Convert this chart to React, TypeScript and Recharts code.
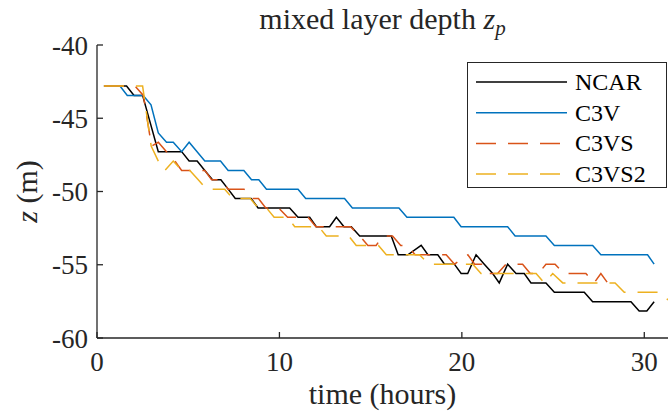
import React from 'react';
import { Label, Line, LineChart, XAxis, YAxis } from 'recharts';

// mixed layer depth z_p (m) against time (hours)
const ncarTime = [0.38, 1.62, 2.03, 2.5, 3.36, 4.64, 5.05, 5.49, 5.91, 6.33, 6.79, 7.19, 7.58, 8.45, 8.83, 10.56, 11.02, 11.66, 12.02, 12.75, 13.12, 13.54, 13.94, 14.4, 16.13, 16.51, 17.04, 17.77, 18.14, 18.68, 19.05, 19.59, 19.96, 20.32, 20.78, 21.23, 21.69, 22.05, 22.51, 22.97, 23.42, 23.79, 24.61, 25.07, 26.71, 27.17, 29.27, 29.72, 30.14, 30.54];
const ncarDepth = [-42.8, -42.8, -43.44, -43.44, -47.28, -47.28, -47.92, -47.92, -48.56, -49.2, -49.2, -49.84, -50.48, -50.48, -51.12, -51.12, -51.76, -51.76, -52.4, -52.4, -51.76, -52.4, -52.4, -53.04, -53.04, -54.32, -54.32, -53.68, -54.32, -54.32, -54.96, -54.96, -55.6, -55.6, -54.32, -54.96, -55.6, -56.24, -54.96, -55.6, -55.6, -56.24, -56.24, -56.88, -56.88, -57.52, -57.52, -58.16, -58.16, -57.52];

const c3vTime = [0.38, 1.26, 1.66, 2.53, 2.96, 3.36, 3.81, 4.18, 4.64, 5.05, 5.91, 6.77, 7.19, 8.05, 8.47, 8.87, 9.29, 11.02, 11.44, 13.57, 14.0, 16.55, 16.99, 19.56, 19.96, 22.51, 22.92, 24.61, 25.07, 27.17, 27.62, 30.18, 30.54];
const c3vDepth = [-42.8, -42.8, -43.44, -43.44, -44.08, -46.0, -46.64, -46.64, -47.28, -46.64, -47.92, -47.92, -48.56, -48.56, -49.2, -49.2, -49.84, -49.84, -50.48, -50.48, -51.12, -51.12, -51.76, -51.76, -52.4, -52.4, -53.04, -53.04, -53.68, -53.68, -54.32, -54.32, -54.96];

const c3vsTime = [0.38, 2.08, 2.54, 2.99, 3.36, 3.81, 4.27, 4.64, 5.45, 5.91, 6.28, 6.79, 7.19, 8.06, 8.5, 8.85, 9.25, 9.95, 10.45, 11.57, 12.0, 13.9, 14.4, 14.85, 15.3, 15.67, 16.2, 16.65, 17.0, 17.44, 19.14, 19.6, 20.33, 20.7, 21.09, 21.51, 21.96, 22.42, 23.33, 23.75, 24.2, 24.61, 25.11, 25.6, 26.8, 27.25, 27.62, 27.99];
const c3vsDepth = [-42.8, -42.8, -43.44, -46.9, -46.64, -47.28, -47.92, -48.56, -48.56, -48.56, -49.2, -49.2, -49.84, -49.84, -50.48, -50.48, -51.12, -51.12, -51.76, -51.76, -52.4, -52.4, -53.04, -53.68, -53.68, -53.04, -53.04, -53.68, -53.68, -54.32, -54.32, -54.96, -54.32, -54.96, -54.96, -55.6, -55.6, -54.96, -54.96, -55.6, -55.6, -54.96, -54.96, -55.6, -55.6, -56.24, -55.6, -56.24];

const c3vs2Time = [0.38, 2.5, 2.97, 3.36, 3.72, 4.18, 4.64, 5.09, 5.55, 6.0, 6.55, 7.0, 7.45, 8.4, 8.83, 9.29, 9.71, 10.43, 10.84, 12.15, 12.57, 13.8, 14.21, 15.43, 15.86, 17.68, 18.2, 20.6, 21.05, 24.07, 24.52, 24.98, 25.53, 28.4, 28.9, 30.9, 31.3];
const c3vs2Depth = [-42.8, -42.8, -46.9, -47.92, -48.56, -47.92, -48.56, -48.56, -49.2, -49.84, -49.84, -49.84, -50.48, -50.48, -51.12, -51.12, -51.76, -51.76, -52.4, -52.4, -53.04, -53.04, -53.68, -53.68, -54.32, -54.32, -54.96, -54.96, -55.6, -55.6, -56.24, -55.6, -56.24, -56.24, -56.88, -56.88, -57.4];

const xTicks = [0, 10, 20, 30];
const yTicks = [-60, -55, -50, -45, -40];

const toRows = (t: number[], z: number[]) => t.map((v, i) => ({ t: v, z: z[i] }));

const series = [
    { name: 'NCAR', data: toRows(ncarTime, ncarDepth), color: '#000000', dash: undefined },
    { name: 'C3V', data: toRows(c3vTime, c3vDepth), color: '#0072BD', dash: undefined },
    { name: 'C3VS', data: toRows(c3vsTime, c3vsDepth), color: '#D95319', dash: '20 12' },
    { name: 'C3VS2', data: toRows(c3vs2Time, c3vs2Depth), color: '#EDB120', dash: '20 12' },
];

const FONT = '"Liberation Serif", "Times New Roman", serif';
const AXIS = '#262626';

const LegendBox = () => (
    <div
        style={{
            position: 'absolute',
            left: 467,
            top: 62,
            width: 200,
            height: 126,
            border: `1px solid ${AXIS}`,
            background: '#fff',
            boxSizing: 'border-box',
            zIndex: 2,
        }}
    >
        <svg width={198} height={124} style={{ display: 'block' }}>
            {series.map((s, i) => {
                const y = 19 + i * 30.7;
                return (
                    <g key={s.name}>
                        <line x1={8} x2={99} y1={y} y2={y} stroke={s.color} strokeWidth={1.5} strokeDasharray={s.dash} />
                        <text x={107} y={y + 8} fontSize={24} fontFamily={FONT} fill="#000">
                            {s.name}
                        </text>
                    </g>
                );
            })}
        </svg>
    </div>
);

const XLabel = ({ viewBox }: any) => (
    <text
        x={viewBox.x + viewBox.width / 2}
        y={viewBox.y + 66}
        textAnchor="middle"
        fontSize={30}
        fontFamily={FONT}
        fill={AXIS}
    >
        time (hours)
    </text>
);

const YLabel = ({ viewBox }: any) => {
    const cx = 37;
    const cy = viewBox.y + viewBox.height / 2;
    return (
        <text
            x={cx}
            y={cy}
            textAnchor="middle"
            fontSize={30}
            fontFamily={FONT}
            fill={AXIS}
            transform={`rotate(-90, ${cx}, ${cy})`}
        >
            <tspan fontStyle="italic">z</tspan> (m)
        </text>
    );
};

export default function App() {
    return (
        <div style={{ position: 'relative', width: 670, height: 413, background: '#fff' }}>
            <style>{'body{margin:0}'}</style>
            <div
                style={{
                    position: 'absolute',
                    left: 97,
                    top: 4,
                    width: 571,
                    textAlign: 'center',
                    fontFamily: FONT,
                    fontSize: 30,
                    lineHeight: '30px',
                    color: AXIS,
                    zIndex: 1,
                }}
            >
                mixed layer depth <i>z</i>
                <sub style={{ fontStyle: 'italic', fontSize: 21, verticalAlign: '-6px' }}>p</sub>
            </div>
            <LegendBox />
            <LineChart width={670} height={413} margin={{ top: 45, right: 2, bottom: 0, left: 0 }}>
                <XAxis
                    type="number"
                    dataKey="t"
                    domain={[0, 31.3]}
                    ticks={xTicks}
                    interval={0}
                    allowDataOverflow
                    height={75}
                    tickSize={-6}
                    tickMargin={20}
                    axisLine={{ stroke: AXIS, strokeWidth: 1.3 }}
                    tickLine={{ stroke: AXIS, strokeWidth: 1.3 }}
                    tick={{ fontSize: 27, fontFamily: FONT, fill: AXIS }}
                >
                    <Label content={XLabel} />
                </XAxis>
                <YAxis
                    type="number"
                    domain={[-60, -40]}
                    ticks={yTicks}
                    interval={0}
                    allowDataOverflow
                    width={97}
                    tickSize={-6}
                    tickMargin={15}
                    axisLine={{ stroke: AXIS, strokeWidth: 1.3 }}
                    tickLine={{ stroke: AXIS, strokeWidth: 1.3 }}
                    tick={{ fontSize: 27, fontFamily: FONT, fill: AXIS }}
                >
                    <Label content={YLabel} />
                </YAxis>
                {series.map((s) => (
                    <Line
                        key={s.name}
                        data={s.data}
                        dataKey="z"
                        name={s.name}
                        type="linear"
                        stroke={s.color}
                        strokeWidth={1.5}
                        strokeDasharray={s.dash}
                        dot={false}
                        activeDot={false}
                        isAnimationActive={false}
                    />
                ))}
            </LineChart>
        </div>
    );
}
